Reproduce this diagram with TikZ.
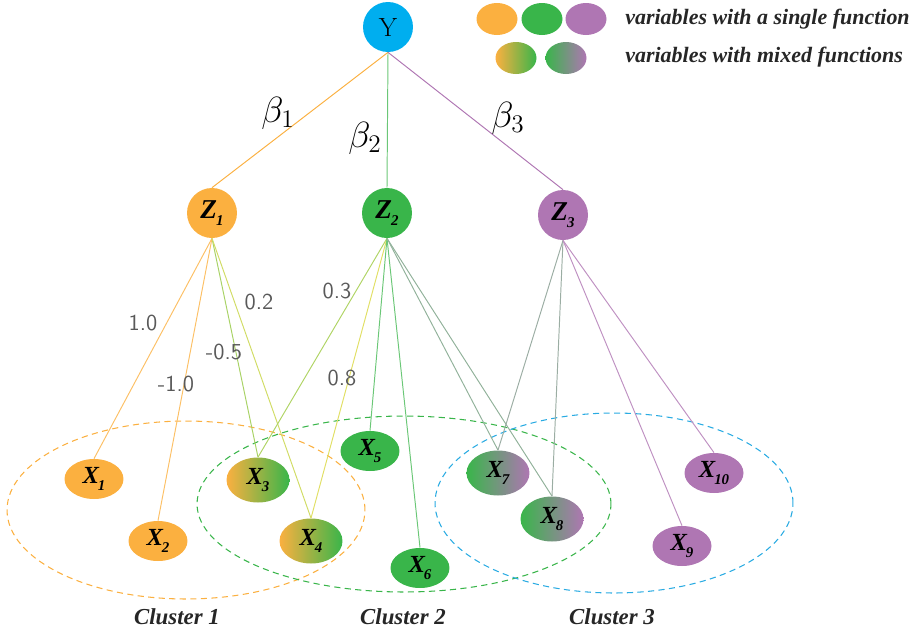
\documentclass[tikz,border=0pt]{standalone}
\usepackage{fontspec}
\newfontfamily\tnr{Liberation Serif}
\usetikzlibrary{shapes.geometric}
\definecolor{fOrange}{HTML}{FBB040}
\definecolor{fGreen}{HTML}{39B54A}
\definecolor{fPurple}{HTML}{AF76B3}
\definecolor{fCyan}{HTML}{00AEEF}
\definecolor{fBlue}{HTML}{29ABE2}
\definecolor{wYellow}{HTML}{F9E04A}
\definecolor{wGray}{HTML}{595959}
\newcommand{\varlbl}[2]{{\tnr\bfseries\itshape #1\kern-0.04em\raisebox{-0.55ex}{\fontsize{8.5}{9}\selectfont #2}}}
\begin{document}
\begin{tikzpicture}[x=0.02cm,y=-0.02cm,
  every node/.style={inner sep=0pt},
  hub/.style={circle,minimum size=1cm},
  var/.style={ellipse,minimum width=1.18cm,minimum height=0.8cm,font=\fontsize{14}{14}\selectfont},
  mixvar/.style={var,minimum width=1.26cm,minimum height=0.9cm},
  keyvar/.style={ellipse,minimum width=0.82cm,minimum height=0.64cm},
  keytext/.style={anchor=west,font=\tnr\bfseries\itshape\fontsize{12.5}{13}\selectfont,text=black!85},
  wlabel/.style={font=\sffamily\fontsize{13}{13}\selectfont,text=wGray},
  blabel/.style={font=\fontsize{20}{22}\selectfont},
  link/.style={line width=0.55pt},
  cluster/.style={ellipse,draw=#1,dash pattern=on 3.5pt off 2.5pt,line width=0.6pt},
  clabel/.style={font=\tnr\bfseries\itshape\fontsize{13}{14}\selectfont,text=black!85}]
\useasboundingbox (0,0) rectangle (913,633);

%clusters
\node[cluster=fOrange,minimum width=7.16cm,minimum height=3.56cm] (C1) at (186,510) {};
\node[cluster=fGreen,minimum width=8.28cm,minimum height=3.52cm] (C2) at (404,504) {};
\node[cluster=fBlue,minimum width=7.16cm,minimum height=3.6cm] (C3) at (614,503) {};
\node[clabel] (C1lbl) at (177,617) {Cluster 1};
\node[clabel] (C2lbl) at (403,617) {Cluster 2};
\node[clabel] (C3lbl) at (612,617) {Cluster 3};

%outcome and latent factors
\node[hub,fill=fCyan,font=\fontsize{15}{15}\selectfont] (Y) at (388,27) {Y};
\node[hub,fill=fOrange,font=\fontsize{15.5}{16}\selectfont] (Z1) at (212,213) {\varlbl{Z}{1}};
\node[hub,fill=fGreen,font=\fontsize{15.5}{16}\selectfont] (Z2) at (387,213) {\varlbl{Z}{2}};
\node[hub,fill=fPurple,font=\fontsize{15.5}{16}\selectfont] (Z3) at (563,215) {\varlbl{Z}{3}};

%observed variables
\node[var,fill=fOrange] (X1) at (94,479) {\varlbl{X}{1}};
\node[var,fill=fOrange] (X2) at (158,541) {\varlbl{X}{2}};
\node[mixvar,left color=fOrange,right color=fGreen] (X3) at (258,480) {\varlbl{X}{3}};
\node[mixvar,left color=fOrange,right color=fGreen] (X4) at (311,541) {\varlbl{X}{4}};
\node[var,fill=fGreen] (X5) at (370,451) {\varlbl{X}{5}};
\node[var,fill=fGreen] (X6) at (420,568) {\varlbl{X}{6}};
\node[mixvar,left color=fGreen,right color=fPurple] (X7) at (498,473) {\varlbl{X}{7}};
\node[mixvar,left color=fGreen,right color=fPurple] (X8) at (552,519) {\varlbl{X}{8}};
\node[var,fill=fPurple] (X9) at (682,546) {\varlbl{X}{9}};
\node[var,fill=fPurple] (X10) at (714,473) {\varlbl{X}{10}};

%Y to Z
\draw[link,fOrange] (Y.south) -- (Z1.north);
\draw[link,fGreen!75] (Y.south) -- (Z2.north);
\draw[link,fPurple] (Y.south) -- (Z3.north);
\node[blabel] (b1) at (278,113) {$\beta_1$};
\node[blabel] (b2) at (365,138) {$\beta_2$};
\node[blabel] (b3) at (508,118) {$\beta_3$};

%Z to X
\draw[link,fOrange!80] (Z1.south) -- (X1.north);
\draw[link,fOrange!80] (Z1.south) -- (X2.north);
\draw[link,wYellow!50!fGreen!85] (Z1.south) -- (X3.north);
\draw[link,wYellow!75!fGreen!85] (Z1.south) -- (X4.north);
\draw[link,wYellow!55!fGreen!85] (Z2.south) -- (X3.north);
\draw[link,wYellow!85!fGreen!85] (Z2.south) -- (X4.north);
\draw[link,fGreen!75] (Z2.south) -- (X5.north);
\draw[link,fGreen!75] (Z2.south) -- (X6.north);
\draw[link,fGreen!55!fPurple!75] (Z2.south) -- (X7.north);
\draw[link,fGreen!55!fPurple!75] (Z2.south) -- (X8.north);
\draw[link,fGreen!45!fPurple!75] (Z3.south) -- (X7.north);
\draw[link,fGreen!45!fPurple!75] (Z3.south) -- (X8.north);
\draw[link,fPurple!80] (Z3.south) -- (X9.north);
\draw[link,fPurple!80] (Z3.south) -- (X10.north);

%loadings
\node[wlabel] (w1) at (143,323) {1.0};
\node[wlabel] (w2) at (176,384) {-1.0};
\node[wlabel] (w3) at (224,352) {-0.5};
\node[wlabel] (w4) at (259,302) {0.2};
\node[wlabel] (w5) at (337,291) {0.3};
\node[wlabel] (w6) at (342,378) {0.8};

%legend
\node[keyvar,fill=fOrange] (k1) at (497,19) {};
\node[keyvar,fill=fGreen] (k2) at (542,19) {};
\node[keyvar,fill=fPurple] (k3) at (586,19) {};
\node[keyvar,left color=fOrange,right color=fGreen] (k4) at (516,58) {};
\node[keyvar,left color=fGreen,right color=fPurple] (k5) at (566,58) {};
\node[keytext] (single) at (625,19) {variables with a single function};
\node[keytext] (mixed) at (625,57) {variables with mixed functions};
\end{tikzpicture}
\end{document}
